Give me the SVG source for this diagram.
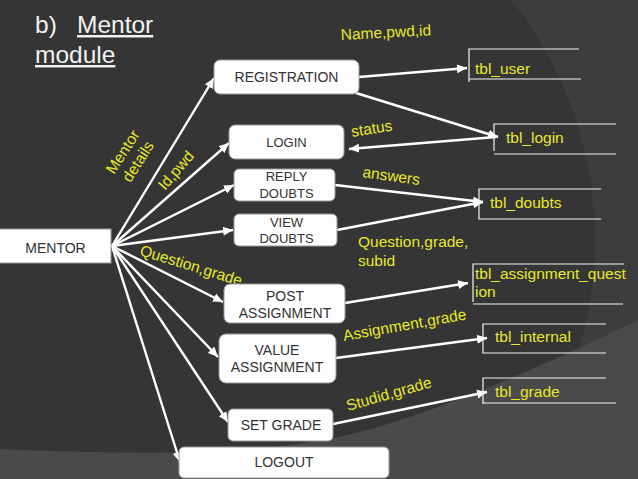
<svg xmlns="http://www.w3.org/2000/svg" width="638" height="479" viewBox="0 0 638 479">
<style>
.bx{fill:#fdfdfd;stroke:#9a9a9a;stroke-width:1}
.nt{font-family:"Liberation Sans",Arial,sans-serif;font-size:14px;fill:#333;text-anchor:middle}
.lb{font-family:"Liberation Sans",Arial,sans-serif;font-size:15.5px;fill:#e8e82a}
.tb{fill:none;stroke:#f4f4f4;stroke-width:1.2}
.c{fill:none;stroke:#fff;stroke-width:2.4}
.ttl{font-family:"Liberation Sans",Arial,sans-serif;font-size:24.5px;fill:#f2f2f2}
</style>
<defs>
<marker id="ah" markerUnits="userSpaceOnUse" markerWidth="11" markerHeight="10" refX="10" refY="5" orient="auto">
<path d="M0,0.5 L10,5 L0,9.5 Z" fill="#fff"/>
</marker>
</defs>
<g id="background">
<rect x="0" y="0" width="638" height="479" fill="#3d3d3d"/>
<circle cx="210" cy="240" r="385" fill="#353535"/>
<path d="M0,449 C120,454 260,458 360,432 C450,408 560,358 638,320 L638,479 L0,479 Z" fill="#4a4a4a"/>
</g>
<g id="title">
<text class="ttl" x="35" y="33">b)</text>
<text class="ttl" x="77" y="33" text-decoration="underline">Mentor</text>
<text class="ttl" x="35" y="63" text-decoration="underline">module</text>
</g>
<g id="connectors">
<line class="c" x1="112" y1="246" x2="214" y2="78" marker-end="url(#ah)"/>
<line class="c" x1="112" y1="246" x2="229" y2="143" marker-end="url(#ah)"/>
<line class="c" x1="112" y1="246" x2="234" y2="185" marker-end="url(#ah)"/>
<line class="c" x1="112" y1="246" x2="233" y2="230" marker-end="url(#ah)"/>
<line class="c" x1="112" y1="246" x2="223" y2="302" marker-end="url(#ah)"/>
<line class="c" x1="112" y1="246" x2="218" y2="357" marker-end="url(#ah)"/>
<line class="c" x1="112" y1="246" x2="228" y2="422" marker-end="url(#ah)"/>
<line class="c" x1="112" y1="246" x2="180" y2="462" marker-end="url(#ah)"/>
<line class="c" x1="359" y1="77" x2="467" y2="68" marker-end="url(#ah)"/>
<line class="c" x1="356" y1="93" x2="498" y2="137" marker-end="url(#ah)"/>
<line class="c" x1="496" y1="137" x2="349" y2="149" marker-end="url(#ah)"/>
<line class="c" x1="335" y1="185" x2="483" y2="202" marker-end="url(#ah)"/>
<line class="c" x1="337" y1="230" x2="483" y2="202" marker-end="url(#ah)"/>
<line class="c" x1="345" y1="303" x2="468" y2="283" marker-end="url(#ah)"/>
<line class="c" x1="336" y1="358" x2="487" y2="338" marker-end="url(#ah)"/>
<line class="c" x1="333" y1="424" x2="487" y2="392" marker-end="url(#ah)"/>
</g>
<g id="labels">
<text class="lb" transform="translate(114,175) rotate(-57)">Mentor<tspan x="2" y="18">details</tspan></text>
<text class="lb" transform="translate(165,191) rotate(-49)">Id,pwd</text>
<text class="lb" transform="translate(139,255) rotate(17)">Question,grade</text>
<text class="lb" transform="translate(341,40) rotate(-3)">Name,pwd,id</text>
<text class="lb" transform="translate(352,137) rotate(-9)">status</text>
<text class="lb" transform="translate(362,177) rotate(8)">answers</text>
<text class="lb" x="358" y="247">Question,grade,<tspan x="358" y="266">subid</tspan></text>
<text class="lb" transform="translate(344,341) rotate(-10)">Assignment,grade</text>
<text class="lb" transform="translate(348,411) rotate(-16)">Studid,grade</text>
</g>
<g id="mentor"><rect class="bx" x="-2" y="229" width="113" height="34"/><text class="nt" x="55.5" y="253">MENTOR</text></g>
<g id="registration"><rect class="bx" x="214" y="60" width="145" height="34" rx="6"/><text class="nt" x="286.5" y="82">REGISTRATION</text></g>
<g id="login"><rect class="bx" x="229" y="125" width="115" height="34" rx="6"/><text class="nt" x="286.5" y="147" style="font-size:13px">LOGIN</text></g>
<g id="reply-doubts"><rect class="bx" x="234" y="169" width="101" height="32" rx="5"/><text class="nt" x="286.5" y="181" style="font-size:13px">REPLY<tspan x="286.5" y="198">DOUBTS</tspan></text></g>
<g id="view-doubts"><rect class="bx" x="234" y="214" width="103" height="32" rx="5"/><text class="nt" x="286.5" y="227" style="font-size:13px">VIEW<tspan x="286.5" y="243">DOUBTS</tspan></text></g>
<g id="post-assignment"><rect class="bx" x="224" y="284" width="121" height="39" rx="6"/><text class="nt" x="285" y="301">POST<tspan x="285" y="318">ASSIGNMENT</tspan></text></g>
<g id="value-assignment"><rect class="bx" x="219" y="334" width="117" height="49" rx="7"/><text class="nt" x="277" y="355">VALUE<tspan x="277" y="372">ASSIGNMENT</tspan></text></g>
<g id="set-grade"><rect class="bx" x="228" y="409" width="105" height="32" rx="5"/><text class="nt" x="281" y="430">SET GRADE</text></g>
<g id="logout"><rect class="bx" x="179" y="447" width="210" height="31" rx="5"/><text class="nt" x="284" y="467">LOGOUT</text></g>
<g id="tbl_user"><path class="tb" d="M579,49 H469 V82 M469,79 H581"/><text class="lb" x="475" y="74">tbl_user</text></g>
<g id="tbl_login"><path class="tb" d="M616,124 H494 V151 M494,154 H616"/><text class="lb" x="506" y="143">tbl_login</text></g>
<g id="tbl_doubts"><path class="tb" d="M601,189 H479 V219 H601"/><text class="lb" x="490" y="208">tbl_doubts</text></g>
<g id="tbl_assignment_question"><path class="tb" d="M624,264 H473 V302 M473,304 H623"/><text class="lb" x="475" y="279">tbl_assignment_quest<tspan x="475" y="297">ion</tspan></text></g>
<g id="tbl_internal"><path class="tb" d="M606,324 H483 V353 H606"/><text class="lb" x="495" y="342">tbl_internal</text></g>
<g id="tbl_grade"><path class="tb" d="M606,378 H483 V404 M483,403 H616"/><text class="lb" x="495" y="397">tbl_grade</text></g>
</svg>
